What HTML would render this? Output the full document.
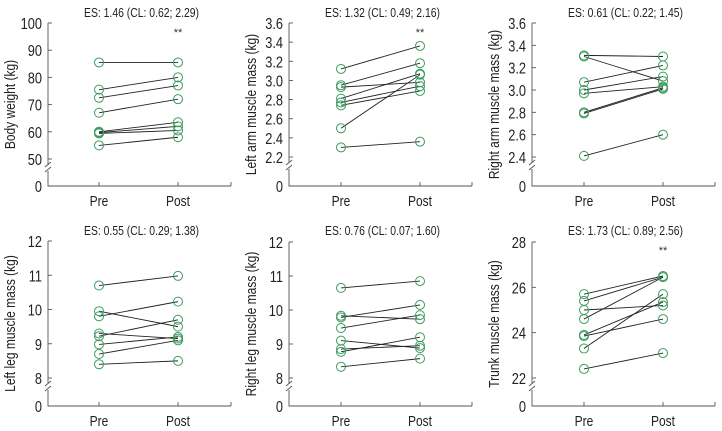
<!DOCTYPE html>
<html><head><meta charset="utf-8"><style>
html,body{margin:0;padding:0;background:#fff;}
svg{display:block;font-family:"Liberation Sans Narrow","Liberation Sans",sans-serif;}
</style></head><body>
<svg id="chart" width="722" height="431" viewBox="0 0 722 431"></svg>
<script>
const titles=["ES: 1.46 (CL: 0.62; 2.29)","ES: 1.32 (CL: 0.49; 2.16)","ES: 0.61 (CL: 0.22; 1.45)","ES: 0.55 (CL: 0.29; 1.38)","ES: 0.76 (CL: 0.07; 1.60)","ES: 1.73 (CL: 0.89; 2.56)"];
const yTitles=["Body weight (kg)","Left arm muscle mass (kg)","Right arm muscle mass (kg)","Left leg muscle mass (kg)","Right leg muscle mass (kg)","Trunk muscle mass (kg)"];
const categories=["Pre","Post"];
const ticks1=[50,60,70,80,90,100];
const ticks2=[2.2,2.4,2.6,2.8,3.0,3.2,3.4,3.6];
const ticks3=[2.4,2.6,2.8,3.0,3.2,3.4,3.6];
const ticks4=[8,9,10,11,12];
const ticks5=[8,9,10,11,12];
const ticks6=[22,24,26,28];
const tickDecimals=[0,1,1,0,0,0];
const pre1=[85.5,75.5,72.5,67,60,59.7,59.4,55];
const post1=[85.5,80,77,72,63.5,62,60.5,58];
const pre2=[3.12,2.95,2.93,2.81,2.77,2.74,2.50,2.30];
const post2=[3.36,3.18,2.98,3.07,2.94,2.89,3.06,2.36];
const pre3=[3.31,3.30,3.07,3.00,2.97,2.80,2.79,2.41];
const post3=[3.30,3.08,3.22,3.12,3.03,3.02,3.01,2.60];
const pre4=[10.7,9.95,9.8,9.3,9.22,8.98,8.7,8.4];
const post4=[10.98,9.5,10.23,9.15,9.7,9.2,9.1,8.5];
const pre5=[10.65,9.83,9.78,9.47,9.1,8.85,8.77,8.33];
const post5=[10.85,9.73,10.15,9.85,8.88,8.95,9.2,8.57];
const pre6=[25.7,25.4,25.0,24.6,23.9,23.85,23.3,22.4];
const post6=[26.5,26.45,25.2,26.45,25.35,24.6,25.7,23.1];
const sig=[true,true,false,false,false,true];
const tickSets=[ticks1,ticks2,ticks3,ticks4,ticks5,ticks6];
const preSets=[pre1,pre2,pre3,pre4,pre5,pre6];
const postSets=[post1,post2,post3,post4,post5,post6];

const NS="http://www.w3.org/2000/svg";
const svg=document.getElementById('chart');
const SX=0.8;
function mk(tag,attrs,parent,text){const e=document.createElementNS(NS,tag);for(const k in attrs)e.setAttribute(k,attrs[k]);if(text!==undefined)e.textContent=text;parent.appendChild(e);return e;}
function txt(parent,x,y,anchor,size,s,rot){
 const tr=rot?`translate(${x},${y}) rotate(-90) scale(${SX},1)`:`translate(${x},${y}) scale(${SX},1)`;
 return mk('text',{x:0,y:0,transform:tr,'text-anchor':anchor,'font-size':size,fill:'#222'},parent,s);
}
const layout=[
 {ax:48,top:23,brk:159,zero:186,pre:99,post:178,end:231,ty:12,cy:200},
 {ax:289,top:23,brk:157,zero:186,pre:341,post:420,end:472,ty:12,cy:200},
 {ax:532,top:23,brk:157,zero:186,pre:584,post:663,end:715,ty:12,cy:200},
 {ax:48,top:241,brk:378,zero:406,pre:99,post:178,end:231,ty:230,cy:420},
 {ax:289,top:242,brk:378,zero:406,pre:341,post:420,end:472,ty:230,cy:420},
 {ax:532,top:242,brk:378,zero:406,pre:584,post:663,end:715,ty:230,cy:420}];
layout.forEach((L,i)=>{
 const g=mk('g',{},svg);
 
 
 const t=tickSets[i], lo=t[0], hi=t[t.length-1];
 const y=v=>L.brk+(v-lo)/(hi-lo)*(L.top-L.brk);
 const xs=[L.pre,L.post];
 const title=txt(g,(L.ax+L.end)/2+2,L.ty+5,'middle',13,titles[i]);
 
 
 const ya=mk('path',{d:`M${L.ax},${L.top}V${L.brk+6}M${L.ax},${L.brk+12}V${L.zero}H${L.end}`,stroke:'#555','stroke-width':0.9,fill:'none'},g);
 
 
 mk('path',{d:`M${L.ax-3},${L.brk+8}L${L.ax+3},${L.brk+3}M${L.ax-3},${L.brk+13}L${L.ax+3},${L.brk+8}`,stroke:'#555','stroke-width':0.9,fill:'none'},g);
 t.forEach(v=>{
  mk('line',{x1:L.ax,x2:L.ax+4,y1:y(v),y2:y(v),stroke:'#555','stroke-width':0.9},g);
  const tl=txt(g,L.ax-6,y(v)+6,'end',16,v.toFixed(tickDecimals[i]));
  
  
 });
 mk('line',{x1:L.ax,x2:L.ax+4,y1:L.zero,y2:L.zero,stroke:'#555','stroke-width':0.9},g);
 txt(g,L.ax-6,L.zero+6,'end',16,'0');
 [L.pre,L.post,L.end].forEach(x=>mk('line',{x1:x,x2:x,y1:L.zero,y2:L.zero-4,stroke:'#555','stroke-width':0.9},g));
 categories.forEach((c,j)=>{
  const cl=txt(g,xs[j],L.cy+6,'middle',15,c);
  
  
 });
 const midY=(L.top+L.zero)/2;
 const yt=txt(g,L.ax-33,midY,'middle',15,yTitles[i],true);
 
 
 const pre=preSets[i], post=postSets[i];
 pre.forEach((p,k)=>{
  const ln=mk('line',{x1:L.pre,y1:y(p),x2:L.post,y2:y(post[k]),stroke:'#222','stroke-width':0.9},g);
  
  
 });
 pre.forEach((p,k)=>{
  [[L.pre,p],[L.post,post[k]]].forEach(([x,v])=>{
   const c=mk('circle',{cx:x,cy:y(v),r:4.5,fill:'none',stroke:'#3c9c5e','stroke-width':1},g);
   
   
  });
 });
 if(sig[i]){
  const s=mk('text',{x:L.post,y:L.ty+24,'text-anchor':'middle','font-size':11,fill:'#333'},g,'**');
  
  
 }
});
</script>
</body></html>
